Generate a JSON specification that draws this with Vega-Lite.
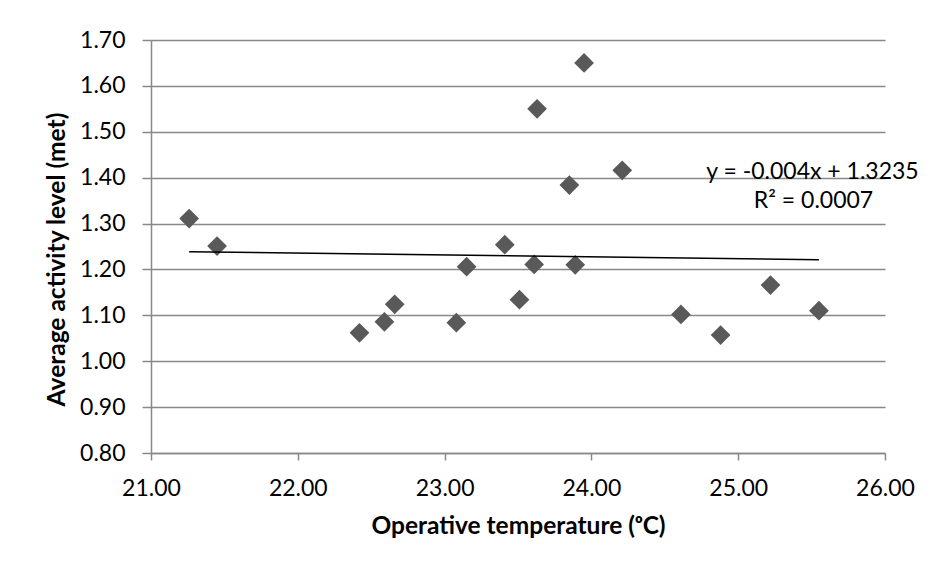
{
  "$schema": "https://vega.github.io/schema/vega-lite/v6.json",
  "autosize": "none",
  "width": 734,
  "height": 413,
  "padding": {"left": 151, "top": 40, "right": 49, "bottom": 114},
  "background": "white",
  "config": {
    "view": {"stroke": null},
    "font": "Lato",
    "axis": {
      "labelFont": "Lato",
      "titleFont": "Lato",
      "labelFontSize": 23,
      "titleFontSize": 24.5,
      "labelColor": "#000000",
      "titleColor": "#000000",
      "domainColor": "#888888",
      "domainWidth": 1.5,
      "tickColor": "#888888",
      "tickWidth": 1.5,
      "gridColor": "#888888",
      "gridWidth": 1.5
    }
  },
  "datasets": {
    "points": [
      {"temp": 21.26, "met": 1.311},
      {"temp": 21.45, "met": 1.251},
      {"temp": 22.42, "met": 1.062},
      {"temp": 22.59, "met": 1.086},
      {"temp": 22.66, "met": 1.124},
      {"temp": 23.08, "met": 1.084},
      {"temp": 23.15, "met": 1.206},
      {"temp": 23.41, "met": 1.254},
      {"temp": 23.51, "met": 1.134},
      {"temp": 23.61, "met": 1.211},
      {"temp": 23.63, "met": 1.550},
      {"temp": 23.85, "met": 1.384},
      {"temp": 23.89, "met": 1.210},
      {"temp": 23.95, "met": 1.650},
      {"temp": 24.21, "met": 1.416},
      {"temp": 24.61, "met": 1.102},
      {"temp": 24.88, "met": 1.057},
      {"temp": 25.22, "met": 1.166},
      {"temp": 25.55, "met": 1.110}
    ],
    "trend": [
      {"temp": 21.26, "met": 1.2385},
      {"temp": 25.55, "met": 1.2213}
    ],
    "labels": [
      {"temp": 25.506, "met": 1.397, "text": "y = -0.004x + 1.3235"},
      {"temp": 25.513, "met": 1.3336, "text": "R² = 0.0007"}
    ]
  },
  "layer": [
    {
      "data": {"name": "points"},
      "mark": {"type": "point", "shape": "diamond", "filled": true, "color": "#595959", "opacity": 1, "size": 390},
      "encoding": {
        "x": {
          "field": "temp", "type": "quantitative",
          "scale": {"domain": [21, 26], "nice": false, "zero": false},
          "axis": {
            "values": [21, 22, 23, 24, 25, 26],
            "format": ".2f",
            "grid": false,
            "tickSize": 7,
            "labelPadding": 35,
            "labelBaseline": "alphabetic",
            "labelFlush": false,
            "title": "Operative temperature (ᵒC)",
            "titleFontWeight": "bold",
            "titleBaseline": "alphabetic",
            "titleY": 80
          }
        },
        "y": {
          "field": "met", "type": "quantitative",
          "scale": {"domain": [0.8, 1.7], "nice": false, "zero": false},
          "axis": {
            "values": [0.8, 0.9, 1.0, 1.1, 1.2, 1.3, 1.4, 1.5, 1.6, 1.7],
            "format": ".2f",
            "grid": true,
            "tickSize": 9,
            "labelPadding": 17,
            "labelFlush": false,
            "title": "Average activity level (met)",
            "titleFontWeight": "bold",
            "titleAngle": -90,
            "titleBaseline": "alphabetic",
            "titleX": -87,
            "titleY": 219
          }
        }
      }
    },
    {
      "data": {"name": "trend"},
      "mark": {"type": "line", "color": "#000000", "strokeWidth": 1.5},
      "encoding": {
        "x": {"field": "temp", "type": "quantitative"},
        "y": {"field": "met", "type": "quantitative"}
      }
    },
    {
      "data": {"name": "labels"},
      "mark": {"type": "text", "font": "Lato", "fontSize": 23, "align": "center", "baseline": "alphabetic", "color": "#000000", "clip": false},
      "encoding": {
        "x": {"field": "temp", "type": "quantitative"},
        "y": {"field": "met", "type": "quantitative"},
        "text": {"field": "text"}
      }
    }
  ]
}
